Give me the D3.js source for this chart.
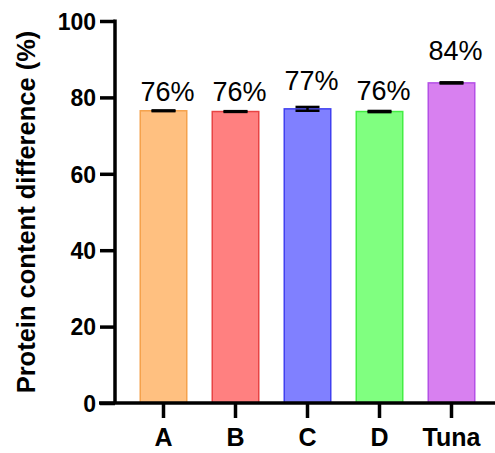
<!DOCTYPE html>
<html>
<head>
<meta charset="utf-8">
<script src="https://cdn.jsdelivr.net/npm/d3@7"></script>
<style>
  html, body { margin: 0; padding: 0; background: #fff; }
  svg { display: block; font-family: "Liberation Sans", Arial, sans-serif; }
</style>
</head>
<body>
<svg id="chart" width="495" height="453"></svg>
<script>
// ---- data ----
const categories = ["A", "B", "C", "D", "Tuna"];
const values = [76.5, 76.3, 77.0, 76.3, 83.8];
const errors = [0.1, 0.1, 0.5, 0.15, 0.15];
const labels = ["76%", "76%", "77%", "76%", "84%"];
const labelAt = [79.1, 79.1, 81.9, 79.3, 89.8];
const yTicks = [0, 20, 40, 60, 80, 100];
const fills = ["#FFC080", "#FF8080", "#8080FF", "#80FF80", "#D880F0"];
const strokes = ["#F5A24C", "#E84444", "#4040F0", "#44EE44", "#B450E6"];

const svg = d3.select("#chart");
const W = 495;
const axisX = 115, baseY = 403, topY = 21;

const y = d3.scaleLinear().domain([0, 100]).range([baseY, topY]);
const x = d3.scaleBand().domain(categories).range([127.5, 487.5])
  .paddingInner(1/3).paddingOuter(1/6);

const data = categories.map((c, i) => ({c, v: values[i], e: errors[i], l: labels[i], la: labelAt[i], f: fills[i], s: strokes[i]}));

// bars
svg.append("g").selectAll("rect").data(data).join("rect")
  .attr("x", d => x(d.c) + 0.75)
  .attr("width", x.bandwidth() - 1.5)
  .attr("y", d => y(d.v))
  .attr("height", d => y(0) - y(d.v))
  .attr("fill", d => d.f)
  .attr("stroke", d => d.s)
  .attr("stroke-width", 1.5);

// error bars
const eb = svg.append("g").attr("stroke", "#000").attr("stroke-width", 2.5);
const capW = x.bandwidth() / 2;
data.forEach(d => {
  const cx = x(d.c) + x.bandwidth() / 2;
  eb.append("line").attr("x1", cx).attr("x2", cx).attr("y1", y(d.v - d.e)).attr("y2", y(d.v + d.e));
  eb.append("line").attr("x1", cx - capW/2).attr("x2", cx + capW/2).attr("y1", y(d.v + d.e)).attr("y2", y(d.v + d.e));
  eb.append("line").attr("x1", cx - capW/2).attr("x2", cx + capW/2).attr("y1", y(d.v - d.e)).attr("y2", y(d.v - d.e));
});

// value labels
svg.append("g").selectAll("text").data(data).join("text")
  .attr("x", d => x(d.c) + x.bandwidth() / 2 + 4)
  .attr("y", d => y(d.la))
  .attr("text-anchor", "middle")
  .attr("font-size", 27)
  .attr("fill", "#000")
  .text(d => d.l);

// y axis
const yAxis = svg.append("g").attr("transform", `translate(${axisX},0)`)
  .call(d3.axisLeft(y).tickValues(yTicks).tickSize(15).tickSizeOuter(0).tickPadding(4));
yAxis.select(".domain").attr("stroke-width", 3.5).attr("d", `M0,${topY - 1.5}V${baseY}`);
yAxis.selectAll(".tick line").attr("stroke-width", 3.5);
yAxis.selectAll(".tick text").attr("font-size", 23).attr("font-weight", "bold").attr("fill", "#000")
  .attr("font-family", "'Liberation Sans', Arial, sans-serif").attr("dy", "0.36em");

// x axis
const xAxis = svg.append("g").attr("transform", `translate(0,${baseY})`)
  .call(d3.axisBottom(x).tickSize(15).tickSizeOuter(0).tickPadding(10));
xAxis.select(".domain").attr("stroke-width", 3.5).attr("d", `M${axisX - 16},0H${W}`);
xAxis.selectAll(".tick line").attr("stroke-width", 3.5);
xAxis.selectAll(".tick text").attr("font-size", 25).attr("font-weight", "bold").attr("fill", "#000")
  .attr("font-family", "'Liberation Sans', Arial, sans-serif");

// y title
svg.append("text")
  .attr("transform", `translate(35,${(baseY + topY) / 2}) rotate(-90)`)
  .attr("text-anchor", "middle")
  .attr("font-size", 25.5)
  .attr("font-weight", "bold")
  .attr("fill", "#000")
  .text("Protein content difference (%)");
</script>
</body>
</html>
